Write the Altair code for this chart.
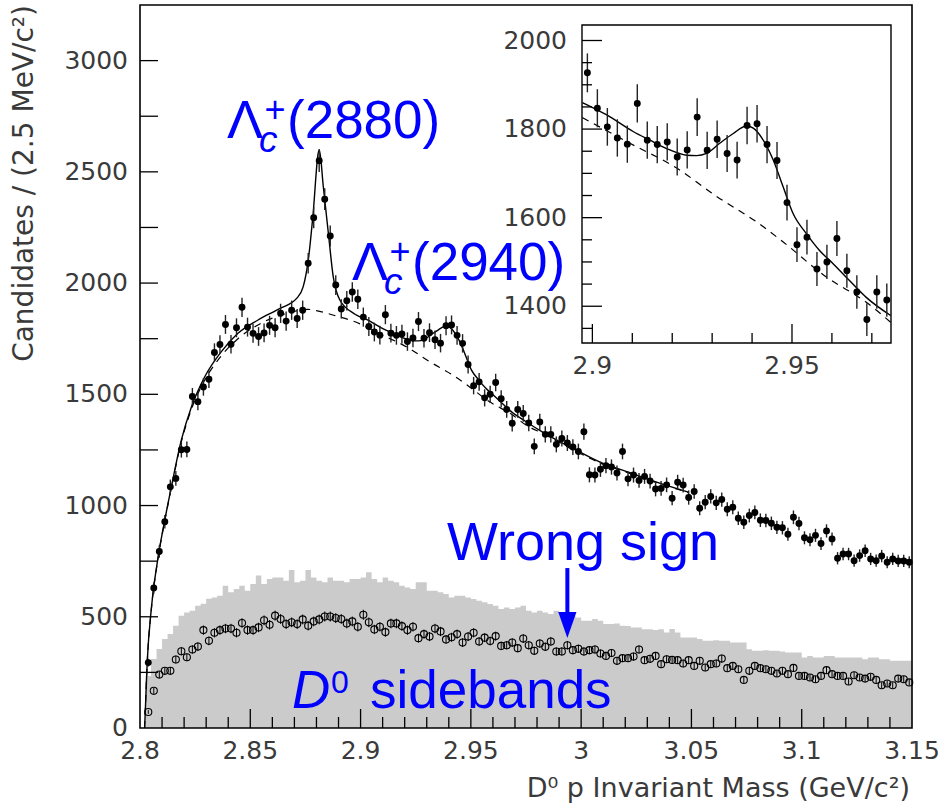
import numpy as np
import pandas as pd
import altair as alt

# ---------------- data ----------------
BIN_W = 0.0025
FIRST_CENTER = 2.80375          # centre of the first filled bin
# right-sign D0 p candidates, bins 1..139
signal = [294, 629, 793, 927, 1084, 1122, 1251, 1252, 1490, 1467,
          1533, 1568, 1688, 1724, 1814, 1725, 1799, 1891, 1802, 1774,
          1760, 1776, 1810, 1799, 1864, 1829, 1878, 1841, 1878, 2089,
          2294, 2550, 2377, 2212, 1991, 1884, 1921, 1960, 1927, 1847,
          1805, 1780, 1766, 1858, 1775, 1765, 1771, 1737, 1753, 1827,
          1752, 1777, 1745, 1730, 1808, 1812, 1765, 1729, 1634, 1539,
          1556, 1484, 1500, 1553, 1480, 1432, 1370, 1432, 1414, 1371,
          1266, 1376, 1320, 1320, 1275, 1301, 1281, 1263, 1243, 1332,
          1138, 1137, 1163, 1179, 1173, 1146, 1243, 1120, 1137, 1113,
          1131, 1110, 1074, 1077, 1093, 1033, 1105, 1092, 1036, 1063,
          988, 1015, 1041, 1012, 1027, 983, 992, 943, 925, 955,
          969, 934, 933, 920, 902, 900, 871, 947, 919, 855,
          846, 866, 829, 886, 850, 763, 782, 782, 752, 775,
          797, 760, 752, 773, 745, 760, 751, 751, 745]
# wrong-sign combinations (open circles)
wrong_sign = [72, 167, 240, 257, 257, 308, 345, 318, 353, 366,
              440, 392, 428, 440, 447, 447, 428, 472, 440, 440,
              452, 484, 464, 505, 490, 467, 475, 467, 488, 460,
              479, 488, 501, 501, 494, 490, 470, 479, 455, 509,
              475, 443, 455, 431, 470, 470, 458, 440, 455, 404,
              422, 411, 447, 434, 398, 408, 422, 384, 411, 428,
              389, 406, 391, 413, 369, 372, 384, 359, 402, 372,
              347, 380, 365, 389, 344, 344, 372, 350, 356, 344,
              350, 353, 335, 324, 337, 302, 314, 314, 321, 353,
              305, 311, 324, 287, 309, 306, 305, 290, 305, 279,
              302, 272, 287, 290, 312, 269, 279, 264, 216, 257,
              279, 269, 264, 257, 245, 257, 242, 270, 234, 234,
              227, 219, 234, 260, 242, 234, 234, 209, 237, 227,
              222, 230, 216, 192, 200, 192, 222, 219, 205]
# D0 sideband histogram (grey)
sideband = [234, 310, 355, 400, 422, 460, 505, 519, 527, 550,
            559, 581, 587, 595, 640, 610, 625, 640, 617, 647,
            685, 647, 670, 677, 677, 662, 710, 655, 662, 710,
            677, 662, 655, 677, 662, 662, 655, 670, 670, 677,
            700, 670, 655, 677, 662, 655, 640, 632, 625, 655,
            655, 617, 617, 610, 602, 587, 595, 595, 587, 580,
            572, 565, 557, 550, 535, 542, 535, 542, 550, 527,
            519, 527, 519, 512, 527, 512, 512, 505, 497, 482,
            482, 490, 482, 467, 467, 470, 460, 459, 452, 452,
            444, 444, 440, 444, 429, 445, 429, 407, 407, 407,
            400, 392, 392, 395, 392, 392, 384, 384, 384, 354,
            347, 347, 350, 347, 347, 344, 339, 339, 339, 317,
            324, 317, 317, 324, 324, 317, 317, 317, 317, 317,
            309, 317, 317, 309, 309, 302, 302, 302, 302]
# total fit (solid)
fit_m = [2.8021, 2.8033, 2.8052, 2.8082, 2.8112, 2.8142, 2.8187, 2.8233, 2.8293,
         2.8368, 2.8444, 2.8535, 2.8635, 2.8710, 2.8740, 2.8763, 2.8785, 2.8808,
         2.8813, 2.8831, 2.8854, 2.8876, 2.8906, 2.8975, 2.9036, 2.9103, 2.9144,
         2.9186, 2.9236, 2.9261, 2.9286, 2.9319, 2.9353, 2.9386, 2.9403, 2.9428,
         2.9453, 2.9478, 2.9503, 2.9536, 2.9569, 2.9603, 2.9644, 2.9686, 2.9747,
         2.9829, 2.9980, 3.0086, 3.0191, 3.0342, 3.0486]
fit_v = [0, 302, 542, 767, 933, 1083, 1293, 1443, 1578,
         1691, 1774, 1834, 1886, 1931, 1984, 2104, 2314, 2584,
         2599, 2434, 2224, 2029, 1924, 1860, 1832, 1794, 1775,
         1756, 1741, 1740, 1745, 1768, 1790, 1807, 1802, 1775,
         1730, 1669, 1609, 1564, 1526, 1496, 1458, 1420, 1379,
         1328, 1248, 1195, 1158, 1105, 1060]
# background part of the fit (dashed)
bkg_m = [2.8021, 2.8033, 2.8052, 2.8082, 2.8112, 2.8142, 2.8187, 2.8233, 2.8293,
         2.8368, 2.8444, 2.8535, 2.8635, 2.8710, 2.8760, 2.8800, 2.8890, 2.8975,
         2.9094, 2.9211, 2.9311, 2.9415, 2.9478, 2.9586, 2.9686, 2.9747, 2.9829,
         2.9980, 3.0086, 3.0191, 3.0342, 3.0486]
bkg_v = [0, 300, 540, 765, 930, 1078, 1285, 1432, 1563,
         1672, 1750, 1812, 1855, 1875, 1882, 1876, 1852, 1826,
         1768, 1712, 1648, 1588, 1545, 1466, 1409, 1364, 1322,
         1242, 1191, 1155, 1103, 1058]

# axes / ticks
X_DOMAIN = [2.8, 3.15]
Y_DOMAIN = [0, 3250]
X_LABELS = [2.8, 2.85, 2.9, 2.95, 3.0, 3.05, 3.1, 3.15]
Y_LABELS = [0, 500, 1000, 1500, 2000, 2500, 3000]
Y_TICKS = [250, 500, 750, 1000, 1250, 1500, 1750, 2000, 2250, 2500, 2750, 3000]
X_MAJOR = [2.85, 2.9, 2.95, 3.0, 3.05, 3.1]
X_MINOR = [round(2.8 + 0.01 * k, 2) for k in range(1, 35) if k % 5 != 0]
X_TITLE = "D⁰ p Invariant Mass (GeV/c²)"
Y_TITLE = "Candidates / (2.5 MeV/c²)"

IN_X_DOMAIN = [2.8974, 2.9748]
IN_Y_DOMAIN = [1317, 2035]
IN_X_LABELS = [2.9, 2.95]
IN_Y_LABELS = [1400, 1600, 1800, 2000]
IN_X_MINOR = [2.91, 2.92, 2.93, 2.94, 2.96, 2.97]
IN_Y_MINOR = [1350, 1450, 1500, 1550, 1650, 1700, 1750, 1850, 1900, 1950]

# annotations (data coordinates of text anchors)
ann_txt = ["Λ", "+", "(2880)", "Λ", "+", "(2940)", "Wrong sign", "0", "sidebands"]
ann_m = [2.83944, 2.85644, 2.86665, 2.89611, 2.91312, 2.92332, 2.93918, 2.88659, 2.90427]
ann_v = [2652, 2724, 2652, 2014, 2086, 2014, 755, 157, 90]
ann_fs = [54, 36, 53, 54, 36, 53, 54, 32, 53]
ital_txt = ["c", "c", "D"]
ital_m = [2.85395, 2.91062, 2.86891]
ital_v = [2589, 1951, 90]
ital_fs = [37, 37, 53]
ARROW_M = 2.99375
ARROW_V = [719, 485]
ARROW_HEAD_V = 463

# ---------------- frames ----------------
centers = [round(FIRST_CENTER + BIN_W * i, 5) for i in range(len(signal))]
pts = pd.DataFrame({"m": centers, "sig": signal, "ws": wrong_sign})
edges = [round(FIRST_CENTER - BIN_W / 2 + BIN_W * i, 5) for i in range(len(sideband))] + [X_DOMAIN[1]]
hist = pd.DataFrame({"m": edges, "v": sideband + [sideband[-1]]})
fit = pd.DataFrame({"m": fit_m, "v": fit_v})
bkg = pd.DataFrame({"m": bkg_m, "v": bkg_v})

W, H = 772, 723
XS = alt.Scale(domain=X_DOMAIN, nice=False, zero=False)
YS = alt.Scale(domain=Y_DOMAIN, nice=False, zero=False)
XI = alt.Scale(domain=IN_X_DOMAIN, range=[442, 751], nice=False, zero=False)
YI = alt.Scale(domain=IN_Y_DOMAIN, range=[338, 20], nice=False, zero=False)

LAB_FONT = "DejaVu Sans"
LAB_COL = "#3a3a3a"
BLUE = "#0000ff"

err_calc = dict(lo="datum.sig - sqrt(datum.sig)", hi="datum.sig + sqrt(datum.sig)")
werr_calc = dict(wlo="datum.ws - sqrt(datum.ws)", whi="datum.ws + sqrt(datum.ws)")


def mx(field="m"):
    return alt.X(f"{field}:Q", scale=XS, axis=None)


def my(field):
    return alt.Y(f"{field}:Q", scale=YS, axis=None)


# ---------------- main panel ----------------
hist_l = alt.Chart(hist).mark_area(interpolate="step-after", color="#cbcbcb", opacity=1).encode(
    x=mx(), y=my("v"))

ws_err = alt.Chart(pts).transform_calculate(**werr_calc).mark_rule(color="black", strokeWidth=1).encode(
    x=mx(), y=my("wlo"), y2="whi:Q")
ws_pts = alt.Chart(pts).mark_point(shape="circle", filled=False, color="black", size=50,
                                   strokeWidth=1.1, opacity=1).encode(x=mx(), y=my("ws"))

bkg_l = alt.Chart(bkg).mark_line(color="black", strokeWidth=1.2, strokeDash=[7, 6],
                                 interpolate="monotone").encode(x=mx(), y=my("v"))
fit_l = alt.Chart(fit).mark_line(color="black", strokeWidth=1.4, interpolate="monotone").encode(
    x=mx(), y=my("v"))

sig_err = alt.Chart(pts).transform_calculate(**err_calc).mark_rule(color="#222222", strokeWidth=1.4).encode(
    x=mx(), y=my("lo"), y2="hi:Q")
sig_pts = alt.Chart(pts).mark_point(shape="circle", filled=True, color="black", size=48, opacity=1).encode(
    x=mx(), y=my("sig"))

yt = alt.Chart(pd.DataFrame({"t": Y_TICKS})).mark_rule(color="black", strokeWidth=1.3).encode(
    y=my("t"), x=alt.value(0), x2=alt.value(18))
xt_major = alt.Chart(pd.DataFrame({"t": X_MAJOR})).mark_rule(color="black", strokeWidth=1.3).encode(
    x=mx("t"), y=alt.value(H), y2=alt.value(H - 19))
xt_minor = alt.Chart(pd.DataFrame({"t": X_MINOR})).mark_rule(color="black", strokeWidth=1.3).encode(
    x=mx("t"), y=alt.value(H), y2=alt.value(H - 11))

ylab = alt.Chart(pd.DataFrame({"t": Y_LABELS})).mark_text(
    align="right", baseline="middle", font=LAB_FONT, fontSize=25, color=LAB_COL).encode(
    y=my("t"), x=alt.value(-12), text=alt.Text("t:Q", format="d"))
xlab = alt.Chart(pd.DataFrame({"t": X_LABELS})).mark_text(
    align="center", baseline="middle", font=LAB_FONT, fontSize=25, color=LAB_COL).encode(
    x=mx("t"), y=alt.value(H + 23), text=alt.Text("t:Q", format="~g"))
xtitle = alt.Chart(pd.DataFrame({"txt": [X_TITLE]})).mark_text(
    align="right", baseline="middle", font=LAB_FONT, fontSize=27, color=LAB_COL).encode(
    x=alt.value(W - 2), y=alt.value(H + 61), text="txt:N")
ytitle = alt.Chart(pd.DataFrame({"txt": [Y_TITLE]})).mark_text(
    align="right", baseline="middle", font=LAB_FONT, fontSize=28, color=LAB_COL, angle=270).encode(
    x=alt.value(-115), y=alt.value(0), text="txt:N")

frame = alt.Chart(pd.DataFrame({"a": [0]})).mark_rect(fill="transparent", stroke="black",
                                                      strokeWidth=1.6).encode(
    x=alt.value(0), x2=alt.value(W), y=alt.value(0), y2=alt.value(H))

ann = pd.DataFrame({"txt": ann_txt, "m": ann_m, "v": ann_v, "fs": ann_fs})
ann_l = alt.Chart(ann).mark_text(align="left", baseline="alphabetic", font="Liberation Sans",
                                 color=BLUE).encode(
    x=mx(), y=my("v"), text="txt:N", size=alt.Size("fs:Q", scale=None, legend=None))
ital = pd.DataFrame({"txt": ital_txt, "m": ital_m, "v": ital_v, "fs": ital_fs})
ital_l = alt.Chart(ital).mark_text(align="left", baseline="alphabetic", font="Liberation Sans",
                                   fontStyle="italic", color=BLUE).encode(
    x=mx(), y=my("v"), text="txt:N", size=alt.Size("fs:Q", scale=None, legend=None))

arrow = pd.DataFrame({"m": [ARROW_M], "v1": [ARROW_V[0]], "v2": [ARROW_V[1]], "vh": [ARROW_HEAD_V]})
arrow_rule = alt.Chart(arrow).mark_rule(color=BLUE, strokeWidth=4).encode(
    x=mx(), y=my("v1"), y2="v2:Q")
arrow_head = alt.Chart(arrow).mark_point(shape="M-0.7,-1L0.7,-1L0,1Z", filled=True, color=BLUE,
                                         size=676, opacity=1, strokeWidth=0).encode(
    x=mx(), y=my("vh"))

main = alt.layer(hist_l, ws_err, ws_pts, bkg_l, fit_l, sig_err, sig_pts, yt, xt_major, xt_minor,
                 ylab, xlab, xtitle, ytitle, ann_l, ital_l, arrow_rule, arrow_head, frame)

# ---------------- inset ----------------
in_filter = alt.FieldRangePredicate(field="m", range=IN_X_DOMAIN)


def ix(field="m"):
    return alt.X(f"{field}:Q", scale=XI, axis=None)


def iy(field):
    return alt.Y(f"{field}:Q", scale=YI, axis=None)


box = pd.DataFrame({"x1": [IN_X_DOMAIN[0]], "x2": [IN_X_DOMAIN[1]],
                    "y1": [IN_Y_DOMAIN[0]], "y2": [IN_Y_DOMAIN[1]]})
in_bg = alt.Chart(box).mark_rect(fill="white", stroke="black", strokeWidth=1.4).encode(
    x=ix("x1"), x2="x2:Q", y=iy("y1"), y2="y2:Q")
in_bkg = alt.Chart(bkg).transform_filter(in_filter).mark_line(
    color="black", strokeWidth=1.2, strokeDash=[7, 6], interpolate="monotone").encode(x=ix(), y=iy("v"))
in_fit = alt.Chart(fit).transform_filter(in_filter).mark_line(
    color="black", strokeWidth=1.4, interpolate="monotone").encode(x=ix(), y=iy("v"))
in_err = alt.Chart(pts).transform_filter(in_filter).transform_calculate(**err_calc).mark_rule(
    color="#222222", strokeWidth=1.4).encode(x=ix(), y=iy("lo"), y2="hi:Q")
in_pts = alt.Chart(pts).transform_filter(in_filter).mark_point(
    shape="circle", filled=True, color="black", size=48, opacity=1).encode(x=ix(), y=iy("sig"))
in_xt_major = alt.Chart(pd.DataFrame({"t": IN_X_LABELS})).mark_rule(color="black", strokeWidth=1.3).encode(
    x=ix("t"), y=alt.value(338), y2=alt.value(319))
in_xt_minor = alt.Chart(pd.DataFrame({"t": IN_X_MINOR})).mark_rule(color="black", strokeWidth=1.3).encode(
    x=ix("t"), y=alt.value(338), y2=alt.value(328))
in_yt_major = alt.Chart(pd.DataFrame({"t": IN_Y_LABELS})).mark_rule(color="black", strokeWidth=1.3).encode(
    y=iy("t"), x=alt.value(442), x2=alt.value(462))
in_yt_minor = alt.Chart(pd.DataFrame({"t": IN_Y_MINOR})).mark_rule(color="black", strokeWidth=1.3).encode(
    y=iy("t"), x=alt.value(442), x2=alt.value(452))
in_xlab = alt.Chart(pd.DataFrame({"t": IN_X_LABELS})).mark_text(
    align="center", baseline="middle", font=LAB_FONT, fontSize=25, color=LAB_COL).encode(
    x=ix("t"), y=alt.value(361), text=alt.Text("t:Q", format="~g"))
in_ylab = alt.Chart(pd.DataFrame({"t": IN_Y_LABELS})).mark_text(
    align="right", baseline="middle", font=LAB_FONT, fontSize=25, color=LAB_COL).encode(
    y=iy("t"), x=alt.value(427), text=alt.Text("t:Q", format="d"))

inset = alt.layer(in_bg, in_bkg, in_fit, in_err, in_pts, in_xt_major, in_xt_minor,
                  in_yt_major, in_yt_minor, in_xlab, in_ylab)

chart = alt.layer(main, inset).resolve_scale(x="independent", y="independent").properties(
    width=W, height=H,
    padding={"left": 140, "top": 5, "right": 31, "bottom": 78},
    autosize=alt.AutoSizeParams(type="none"),
    background="white",
).configure_view(stroke=None)

chart.save("out.html", embed_options={"renderer": "svg", "actions": False})
